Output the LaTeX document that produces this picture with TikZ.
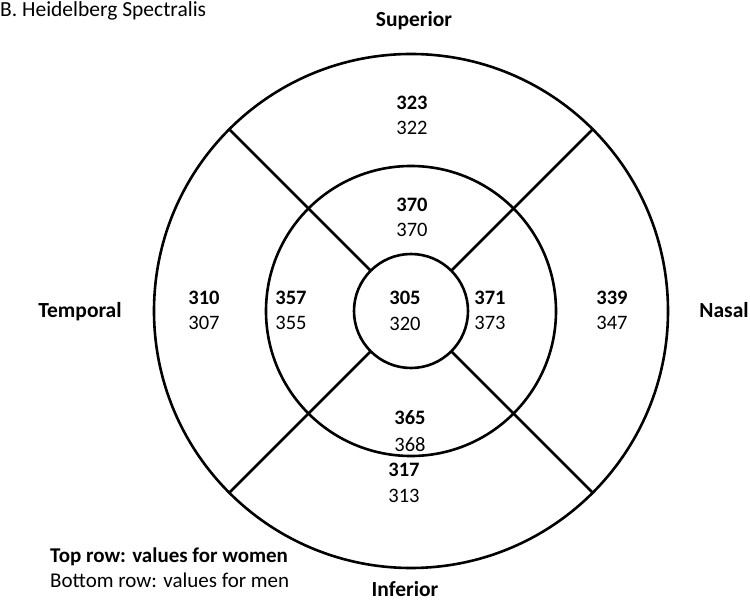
\documentclass[tikz,border=0pt]{standalone}
\usepackage{fontspec}
\setmainfont{Carlito}
\begin{document}
\begin{tikzpicture}[x=1pt,y=-1pt,
  ring/.style={circle,draw,line width=2.6pt,inner sep=0pt,outer sep=0pt},
  spoke/.style={line width=2.6pt},
  val/.style={font=\fontsize{20.5}{24}\selectfont,inner sep=0pt,anchor=base},
  bval/.style={font=\fontsize{20.5}{24}\selectfont\bfseries,inner sep=0pt,anchor=base},
  side/.style={font=\fontsize{21.5}{25}\selectfont\bfseries,inner sep=0pt,anchor=base}]
\useasboundingbox (0,0) rectangle (750,601);
\coordinate (c) at (411,311);
\node[ring,minimum size=514pt] (outer) at (c) {};
\node[ring,minimum size=290pt] (middle) at (c) {};
\node[ring,minimum size=114pt] (inner) at (c) {};
\foreach \a in {45,135,225,315}{
  \draw[spoke] (inner.\a) -- (outer.\a);
}
\node[anchor=base west,font=\fontsize{21.5}{25}\selectfont,inner sep=0pt] (title) at (0,17) {B. Heidelberg Spectralis};
\node[side] (sup) at (414,27) {Superior};
\node[side] (inf) at (405,596) {Inferior};
\node[side] (temp) at (80,318) {Temporal};
\node[side] (nas) at (724,318) {Nasal};
% values
\node[bval] (s1) at (412,109.5) {323};
\node[val]  (s2) at (412,134.5) {322};
\node[bval] (ms1) at (412,211.5) {370};
\node[val]  (ms2) at (412,236.5) {370};
\node[bval] (t1) at (204,305) {310};
\node[val]  (t2) at (204,330) {307};
\node[bval] (mt1) at (291,305) {357};
\node[val]  (mt2) at (291,330) {355};
\node[bval] (c1) at (405,305) {305};
\node[val]  (c2) at (405,331) {320};
\node[bval] (mn1) at (490,305) {371};
\node[val]  (mn2) at (490,330) {373};
\node[bval] (n1) at (612,305) {339};
\node[val]  (n2) at (612,330) {347};
\node[bval] (mi1) at (410,425) {365};
\node[val]  (mi2) at (410,451.5) {368};
\node[bval] (i1) at (404,477) {317};
\node[val]  (i2) at (404,502) {313};
\node[anchor=base west,font=\fontsize{21}{25}\selectfont\bfseries,inner sep=0pt] (leg1) at (50,562) {Top row: values for women};
\node[anchor=base west,font=\fontsize{21}{25}\selectfont,inner sep=0pt] (leg2) at (50,587) {Bottom row: values for men};
\end{tikzpicture}
\end{document}
